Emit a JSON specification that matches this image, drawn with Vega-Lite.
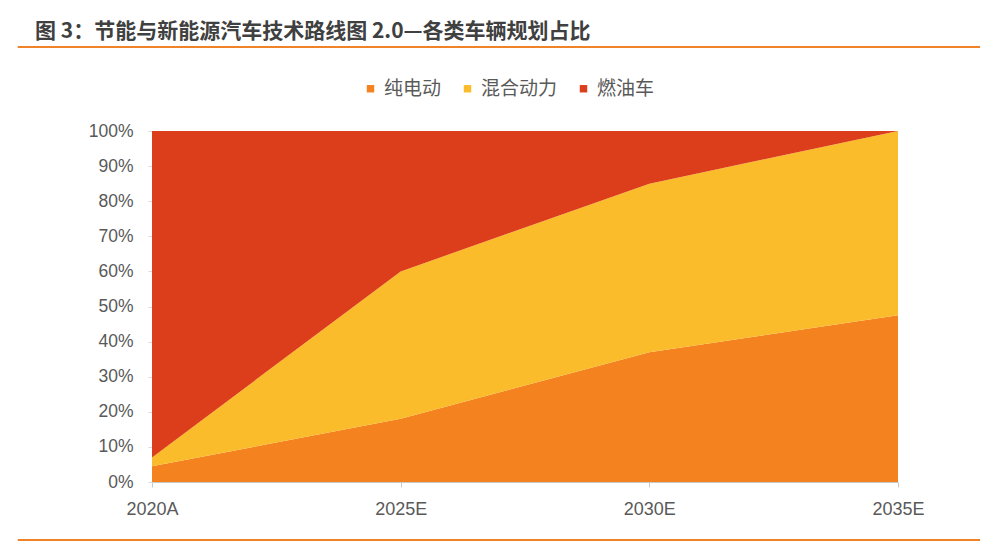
{
  "$schema": "https://vega.github.io/schema/vega-lite/v6.json",
  "width": 746,
  "height": 351,
  "autosize": {"type": "none"},
  "padding": {"left": 152, "top": 131, "right": 102, "bottom": 68},
  "background": "white",
  "config": {"view": {"stroke": null}, "axisY": {"labelOverlap": false}},
  "title": {
    "text": "图 3：节能与新能源汽车技术路线图 2.0—各类车辆规划占比",
    "anchor": "start",
    "frame": "group",
    "orient": "top",
    "dx": -117,
    "offset": 4,
    "font": "Noto Sans CJK SC",
    "fontSize": 21,
    "fontWeight": "bold",
    "color": "#404040"
  },
  "data": {
    "values": [
      {"year": "2020A", "type": "纯电动", "k": 1, "share": 0.045},
      {"year": "2025E", "type": "纯电动", "k": 1, "share": 0.18},
      {"year": "2030E", "type": "纯电动", "k": 1, "share": 0.37},
      {"year": "2035E", "type": "纯电动", "k": 1, "share": 0.475},
      {"year": "2020A", "type": "混合动力", "k": 2, "share": 0.025},
      {"year": "2025E", "type": "混合动力", "k": 2, "share": 0.42},
      {"year": "2030E", "type": "混合动力", "k": 2, "share": 0.48},
      {"year": "2035E", "type": "混合动力", "k": 2, "share": 0.525},
      {"year": "2020A", "type": "燃油车", "k": 3, "share": 0.93},
      {"year": "2025E", "type": "燃油车", "k": 3, "share": 0.40},
      {"year": "2030E", "type": "燃油车", "k": 3, "share": 0.15},
      {"year": "2035E", "type": "燃油车", "k": 3, "share": 0.0}
    ]
  },
  "layer": [
    {
      "mark": {"type": "area", "opacity": 1},
      "encoding": {
        "x": {
          "field": "year",
          "type": "ordinal",
          "scale": {"type": "point", "padding": 0},
          "axis": {
            "title": null,
            "labelAngle": 0,
            "labelFont": "Liberation Sans",
            "labelFontSize": 18,
            "labelColor": "#595959",
            "labelPadding": 13,
            "domain": true,
            "domainColor": "#C8C8C8",
            "tickColor": "#C8C8C8",
            "tickSize": 5,
            "grid": false,
            "zindex": 1
          }
        },
        "y": {
          "field": "share",
          "type": "quantitative",
          "stack": "zero",
          "scale": {"domain": [0, 1]},
          "axis": {
            "title": null,
            "format": ".0%",
            "values": [0, 0.1, 0.2, 0.3, 0.4, 0.5, 0.6, 0.7, 0.8, 0.9, 1],
            "labelOverlap": false,
            "labelFont": "Liberation Sans",
            "labelFontSize": 17.5,
            "labelColor": "#595959",
            "labelPadding": 15,
            "domain": false,
            "tickColor": "#D9D9D9",
            "tickSize": 4,
            "grid": false
          }
        },
        "color": {
          "field": "type",
          "type": "nominal",
          "sort": ["纯电动", "混合动力", "燃油车"],
          "scale": {
            "domain": ["纯电动", "混合动力", "燃油车"],
            "range": ["#F4831F", "#FBBC2B", "#DC3D1A"]
          },
          "legend": {
            "title": null,
            "orient": "none",
            "direction": "horizontal",
            "legendX": 209,
            "legendY": -52,
            "symbolType": "square",
            "symbolSize": 55,
            "symbolStrokeWidth": 0,
            "labelFont": "Noto Sans CJK SC",
            "labelFontSize": 19,
            "labelColor": "#595959",
            "labelOffset": 4,
            "columnPadding": 16
          }
        },
        "order": {"field": "k", "type": "quantitative"}
      }
    },
    {
      "data": {"values": [{}]},
      "mark": {"type": "rule", "color": "#F08228", "strokeWidth": 2, "clip": false},
      "encoding": {
        "x": {"datum": -0.18, "type": "quantitative", "scale": {"domain": [0, 1]}, "axis": null},
        "x2": {"datum": 1.11},
        "y": {"datum": 1.239, "type": "quantitative", "axis": null}
      }
    },
    {
      "data": {"values": [{}]},
      "mark": {"type": "rule", "color": "#F08228", "strokeWidth": 2, "clip": false},
      "encoding": {
        "x": {"datum": -0.18, "type": "quantitative", "scale": {"domain": [0, 1]}, "axis": null},
        "x2": {"datum": 1.11},
        "y": {"datum": -0.165, "type": "quantitative", "axis": null}
      }
    }
  ],
  "resolve": {"scale": {"x": "independent"}, "axis": {"x": "independent", "y": "independent"}}
}
